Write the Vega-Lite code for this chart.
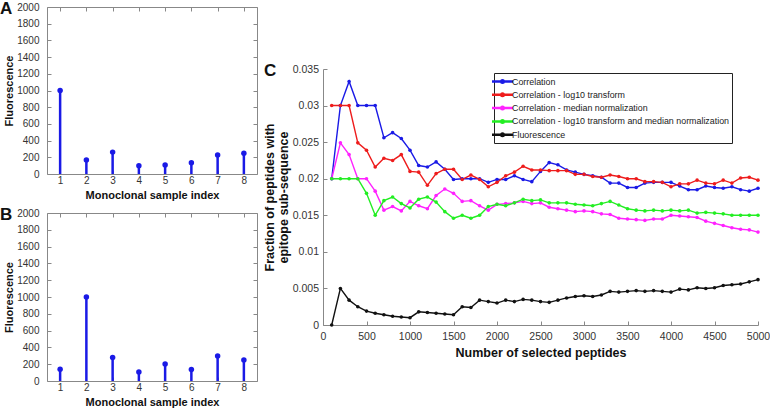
{
  "$schema": "https://vega.github.io/schema/vega-lite/v6.json",
  "padding": {"left": -1, "top": -1, "right": 0, "bottom": 0},
  "background": "white",
  "config": {
    "font": "Liberation Sans",
    "view": {"stroke": "#888", "strokeWidth": 1},
    "axis": {"labelFont": "Liberation Sans", "titleFont": "Liberation Sans", "labelFontSize": 10, "labelColor": "#333", "titleColor": "#111", "titleFontSize": 11, "titleFontWeight": "bold", "grid": false, "domain": false, "tickColor": "#888", "tickSize": -4, "labelPadding": 8, "labelFlush": false},
    "title": {"font": "Liberation Sans", "fontSize": 17, "fontWeight": "bold", "color": "#111", "anchor": "start", "frame": "group", "baseline": "alphabetic"}
  },
  "hconcat": [
    {
      "vconcat": [
        {
          "width": 210, "height": 167,
          "title": {"text": "A", "dx": -47, "offset": -16},
          "data": {"values": [{"i":1,"f":1000},{"i":2,"f":168},{"i":3,"f":262},{"i":4,"f":100},{"i":5,"f":108},{"i":6,"f":135},{"i":7,"f":228},{"i":8,"f":248}]},
          "layer": [
            {"mark": {"type": "rule", "color": "#1a1ae6", "strokeWidth": 2.5},
             "encoding": {
               "x": {"field": "i", "type": "quantitative", "scale": {"domain": [0.5, 8.5], "zero": false}, "axis": {"values": [1,2,3,4,5,6,7,8], "format": "d", "title": "Monoclonal sample index", "labelPadding": 5, "titlePadding": 4}},
               "y": {"field": "f", "type": "quantitative", "scale": {"domain": [0, 2000]}, "axis": {"values": [0,200,400,600,800,1000,1200,1400,1600,1800,2000], "format": "d", "title": "Fluorescence", "labelPadding": 12, "titlePadding": 2}},
               "y2": {"datum": 0}}},
            {"mark": {"type": "point", "filled": true, "color": "#1a1ae6", "size": 30, "opacity": 1},
             "encoding": {
               "x": {"field": "i", "type": "quantitative", "scale": {"domain": [0.5, 8.5], "zero": false}, "axis": {"orient": "top", "labels": false, "title": null, "labelPadding": 0, "values": [1,2,3,4,5,6,7,8]}},
               "y": {"field": "f", "type": "quantitative", "scale": {"domain": [0, 2000]}, "axis": {"orient": "right", "labels": false, "title": null, "labelPadding": 0, "values": [0,200,400,600,800,1000,1200,1400,1600,1800,2000]}}}}
          ],
          "resolve": {"axis": {"x": "independent", "y": "independent"}}
        },
        {
          "width": 210, "height": 168,
          "title": {"text": "B", "dx": -47, "offset": -16},
          "data": {"values": [{"i":1,"f":140},{"i":2,"f":1000},{"i":3,"f":279},{"i":4,"f":107},{"i":5,"f":202},{"i":6,"f":136},{"i":7,"f":298},{"i":8,"f":250}]},
          "layer": [
            {"mark": {"type": "rule", "color": "#1a1ae6", "strokeWidth": 2.5},
             "encoding": {
               "x": {"field": "i", "type": "quantitative", "scale": {"domain": [0.5, 8.5], "zero": false}, "axis": {"values": [1,2,3,4,5,6,7,8], "format": "d", "title": "Monoclonal sample index", "labelPadding": 5, "titlePadding": 4}},
               "y": {"field": "f", "type": "quantitative", "scale": {"domain": [0, 2000]}, "axis": {"values": [0,200,400,600,800,1000,1200,1400,1600,1800,2000], "format": "d", "title": "Fluorescence", "labelPadding": 12, "titlePadding": 2}},
               "y2": {"datum": 0}}},
            {"mark": {"type": "point", "filled": true, "color": "#1a1ae6", "size": 30, "opacity": 1},
             "encoding": {
               "x": {"field": "i", "type": "quantitative", "scale": {"domain": [0.5, 8.5], "zero": false}, "axis": {"orient": "top", "labels": false, "title": null, "labelPadding": 0, "values": [1,2,3,4,5,6,7,8]}},
               "y": {"field": "f", "type": "quantitative", "scale": {"domain": [0, 2000]}, "axis": {"orient": "right", "labels": false, "title": null, "labelPadding": 0, "values": [0,200,400,600,800,1000,1200,1400,1600,1800,2000]}}}}
          ],
          "resolve": {"axis": {"x": "independent", "y": "independent"}}
        }
      ],
      "spacing": 4
    },
    {
      "vconcat": [
        {
          "width": 435, "height": 43,
          "view": {"stroke": null},
          "data": {"values": [{"t": ""}]},
          "mark": {"type": "text"},
          "encoding": {"text": {"field": "t"}}
        },
        {
          "width": 435, "height": 256,
          "view": {"stroke": null},
          "title": {"text": "C", "dx": -59, "offset": -16},
          "data": {"values": [
{"n":100,"Correlation":0.0200,"Correlation - log10 transform":0.0300,"Correlation - median normalization":0.0200,"Correlation - log10 transform and median normalization":0.0200,"Fluorescence":0},
{"n":200,"Correlation":0.0300,"Correlation - log10 transform":0.0300,"Correlation - median normalization":0.0249,"Correlation - log10 transform and median normalization":0.0200,"Fluorescence":0.0050},
{"n":300,"Correlation":0.0333,"Correlation - log10 transform":0.0300,"Correlation - median normalization":0.0233,"Correlation - log10 transform and median normalization":0.0200,"Fluorescence":0.0034},
{"n":400,"Correlation":0.0300,"Correlation - log10 transform":0.0249,"Correlation - median normalization":0.0200,"Correlation - log10 transform and median normalization":0.0200,"Fluorescence":0.0025},
{"n":500,"Correlation":0.0300,"Correlation - log10 transform":0.0239,"Correlation - median normalization":0.0200,"Correlation - log10 transform and median normalization":0.0180,"Fluorescence":0.0019},
{"n":600,"Correlation":0.0300,"Correlation - log10 transform":0.0216,"Correlation - median normalization":0.0183,"Correlation - log10 transform and median normalization":0.0150,"Fluorescence":0.0016},
{"n":700,"Correlation":0.0256,"Correlation - log10 transform":0.0228,"Correlation - median normalization":0.0157,"Correlation - log10 transform and median normalization":0.0170,"Fluorescence":0.0014},
{"n":800,"Correlation":0.0263,"Correlation - log10 transform":0.0225,"Correlation - median normalization":0.0162,"Correlation - log10 transform and median normalization":0.0175,"Fluorescence":0.0012},
{"n":900,"Correlation":0.0255,"Correlation - log10 transform":0.0233,"Correlation - median normalization":0.0156,"Correlation - log10 transform and median normalization":0.0166,"Fluorescence":0.0011},
{"n":1000,"Correlation":0.0239,"Correlation - log10 transform":0.0210,"Correlation - median normalization":0.0169,"Correlation - log10 transform and median normalization":0.0160,"Fluorescence":0.0010},
{"n":1100,"Correlation":0.0218,"Correlation - log10 transform":0.0209,"Correlation - median normalization":0.0163,"Correlation - log10 transform and median normalization":0.0172,"Fluorescence":0.0018},
{"n":1200,"Correlation":0.0216,"Correlation - log10 transform":0.0191,"Correlation - median normalization":0.0159,"Correlation - log10 transform and median normalization":0.0175,"Fluorescence":0.0017},
{"n":1300,"Correlation":0.0223,"Correlation - log10 transform":0.0207,"Correlation - median normalization":0.0177,"Correlation - log10 transform and median normalization":0.0168,"Fluorescence":0.0016},
{"n":1400,"Correlation":0.0213,"Correlation - log10 transform":0.0213,"Correlation - median normalization":0.0186,"Correlation - log10 transform and median normalization":0.0155,"Fluorescence":0.0015},
{"n":1500,"Correlation":0.0199,"Correlation - log10 transform":0.0213,"Correlation - median normalization":0.0180,"Correlation - log10 transform and median normalization":0.0146,"Fluorescence":0.0014},
{"n":1600,"Correlation":0.0200,"Correlation - log10 transform":0.0199,"Correlation - median normalization":0.0169,"Correlation - log10 transform and median normalization":0.0150,"Fluorescence":0.0025},
{"n":1700,"Correlation":0.0200,"Correlation - log10 transform":0.0205,"Correlation - median normalization":0.0170,"Correlation - log10 transform and median normalization":0.0146,"Fluorescence":0.0024},
{"n":1800,"Correlation":0.0200,"Correlation - log10 transform":0.0199,"Correlation - median normalization":0.0163,"Correlation - log10 transform and median normalization":0.0150,"Fluorescence":0.0034},
{"n":1900,"Correlation":0.0195,"Correlation - log10 transform":0.0189,"Correlation - median normalization":0.0157,"Correlation - log10 transform and median normalization":0.0162,"Fluorescence":0.0032},
{"n":2000,"Correlation":0.0199,"Correlation - log10 transform":0.0195,"Correlation - median normalization":0.0165,"Correlation - log10 transform and median normalization":0.0165,"Fluorescence":0.0030},
{"n":2100,"Correlation":0.0199,"Correlation - log10 transform":0.0204,"Correlation - median normalization":0.0166,"Correlation - log10 transform and median normalization":0.0163,"Fluorescence":0.0034},
{"n":2200,"Correlation":0.0204,"Correlation - log10 transform":0.0209,"Correlation - median normalization":0.0167,"Correlation - log10 transform and median normalization":0.0167,"Fluorescence":0.0032},
{"n":2300,"Correlation":0.0199,"Correlation - log10 transform":0.0217,"Correlation - median normalization":0.0169,"Correlation - log10 transform and median normalization":0.0172,"Fluorescence":0.0035},
{"n":2400,"Correlation":0.0196,"Correlation - log10 transform":0.0212,"Correlation - median normalization":0.0166,"Correlation - log10 transform and median normalization":0.0170,"Fluorescence":0.0034},
{"n":2500,"Correlation":0.0210,"Correlation - log10 transform":0.0212,"Correlation - median normalization":0.0167,"Correlation - log10 transform and median normalization":0.0171,"Fluorescence":0.0032},
{"n":2600,"Correlation":0.0222,"Correlation - log10 transform":0.0211,"Correlation - median normalization":0.0161,"Correlation - log10 transform and median normalization":0.0167,"Fluorescence":0.0031},
{"n":2700,"Correlation":0.0219,"Correlation - log10 transform":0.0211,"Correlation - median normalization":0.0159,"Correlation - log10 transform and median normalization":0.0167,"Fluorescence":0.0034},
{"n":2800,"Correlation":0.0212,"Correlation - log10 transform":0.0211,"Correlation - median normalization":0.0157,"Correlation - log10 transform and median normalization":0.0167,"Fluorescence":0.0037},
{"n":2900,"Correlation":0.0209,"Correlation - log10 transform":0.0206,"Correlation - median normalization":0.0155,"Correlation - log10 transform and median normalization":0.0165,"Fluorescence":0.0039},
{"n":3000,"Correlation":0.0206,"Correlation - log10 transform":0.0206,"Correlation - median normalization":0.0156,"Correlation - log10 transform and median normalization":0.0164,"Fluorescence":0.0040},
{"n":3100,"Correlation":0.0204,"Correlation - log10 transform":0.0203,"Correlation - median normalization":0.0155,"Correlation - log10 transform and median normalization":0.0163,"Fluorescence":0.0039},
{"n":3200,"Correlation":0.0202,"Correlation - log10 transform":0.0202,"Correlation - median normalization":0.0152,"Correlation - log10 transform and median normalization":0.0166,"Fluorescence":0.0041},
{"n":3300,"Correlation":0.0194,"Correlation - log10 transform":0.0205,"Correlation - median normalization":0.0151,"Correlation - log10 transform and median normalization":0.0169,"Fluorescence":0.0046},
{"n":3400,"Correlation":0.0194,"Correlation - log10 transform":0.0203,"Correlation - median normalization":0.0146,"Correlation - log10 transform and median normalization":0.0164,"Fluorescence":0.0045},
{"n":3500,"Correlation":0.0188,"Correlation - log10 transform":0.0200,"Correlation - median normalization":0.0145,"Correlation - log10 transform and median normalization":0.0159,"Fluorescence":0.0046},
{"n":3600,"Correlation":0.0188,"Correlation - log10 transform":0.0200,"Correlation - median normalization":0.0144,"Correlation - log10 transform and median normalization":0.0157,"Fluorescence":0.0047},
{"n":3700,"Correlation":0.0194,"Correlation - log10 transform":0.0196,"Correlation - median normalization":0.0143,"Correlation - log10 transform and median normalization":0.0156,"Fluorescence":0.0046},
{"n":3800,"Correlation":0.0195,"Correlation - log10 transform":0.0196,"Correlation - median normalization":0.0145,"Correlation - log10 transform and median normalization":0.0157,"Fluorescence":0.0047},
{"n":3900,"Correlation":0.0195,"Correlation - log10 transform":0.0195,"Correlation - median normalization":0.0145,"Correlation - log10 transform and median normalization":0.0156,"Fluorescence":0.0046},
{"n":4000,"Correlation":0.0195,"Correlation - log10 transform":0.0189,"Correlation - median normalization":0.0150,"Correlation - log10 transform and median normalization":0.0157,"Fluorescence":0.0045},
{"n":4100,"Correlation":0.0190,"Correlation - log10 transform":0.0193,"Correlation - median normalization":0.0149,"Correlation - log10 transform and median normalization":0.0156,"Fluorescence":0.0049},
{"n":4200,"Correlation":0.0185,"Correlation - log10 transform":0.0193,"Correlation - median normalization":0.0148,"Correlation - log10 transform and median normalization":0.0157,"Fluorescence":0.0048},
{"n":4300,"Correlation":0.0185,"Correlation - log10 transform":0.0198,"Correlation - median normalization":0.0147,"Correlation - log10 transform and median normalization":0.0153,"Fluorescence":0.0051},
{"n":4400,"Correlation":0.0190,"Correlation - log10 transform":0.0194,"Correlation - median normalization":0.0142,"Correlation - log10 transform and median normalization":0.0154,"Fluorescence":0.0050},
{"n":4500,"Correlation":0.0188,"Correlation - log10 transform":0.0193,"Correlation - median normalization":0.0139,"Correlation - log10 transform and median normalization":0.0153,"Fluorescence":0.0051},
{"n":4600,"Correlation":0.0187,"Correlation - log10 transform":0.0198,"Correlation - median normalization":0.0136,"Correlation - log10 transform and median normalization":0.0152,"Fluorescence":0.0054},
{"n":4700,"Correlation":0.0189,"Correlation - log10 transform":0.0194,"Correlation - median normalization":0.0133,"Correlation - log10 transform and median normalization":0.0150,"Fluorescence":0.0055},
{"n":4800,"Correlation":0.0185,"Correlation - log10 transform":0.0201,"Correlation - median normalization":0.0131,"Correlation - log10 transform and median normalization":0.0150,"Fluorescence":0.0056},
{"n":4900,"Correlation":0.0183,"Correlation - log10 transform":0.0202,"Correlation - median normalization":0.0130,"Correlation - log10 transform and median normalization":0.0150,"Fluorescence":0.0059},
{"n":5000,"Correlation":0.0187,"Correlation - log10 transform":0.0198,"Correlation - median normalization":0.0127,"Correlation - log10 transform and median normalization":0.0150,"Fluorescence":0.0062}
          ]},
          "transform": [{"fold": ["Correlation", "Correlation - log10 transform", "Correlation - median normalization", "Correlation - log10 transform and median normalization", "Fluorescence"], "as": ["series", "value"]}],
          "mark": {"type": "line", "strokeWidth": 1.4, "point": {"filled": true, "size": 13}},
          "encoding": {
            "x": {"field": "n", "type": "quantitative", "scale": {"domain": [0, 5000]}, "axis": {"values": [0,500,1000,1500,2000,2500,3000,3500,4000,4500,5000], "format": "d", "domain": true, "domainColor": "#888", "labelFontSize": 10.5, "titleFontSize": 12.5, "title": "Number of selected peptides", "labelPadding": 10, "titlePadding": 5}},
            "y": {"field": "value", "type": "quantitative", "scale": {"domain": [0, 0.035]}, "axis": {"values": [0,0.005,0.01,0.015,0.02,0.025,0.03,0.035], "format": "~g", "domain": true, "domainColor": "#888", "labelFontSize": 10.5, "titleFontSize": 12.5, "title": ["Fraction of peptides with", "epitope sub-sequence"], "labelPadding": 8.5, "titlePadding": 1.5}},
            "color": {"field": "series", "type": "nominal",
              "scale": {"domain": ["Correlation", "Correlation - log10 transform", "Correlation - median normalization", "Correlation - log10 transform and median normalization", "Fluorescence"], "range": ["#1a1ae6", "#ee1c1c", "#ff22ff", "#22ee22", "#111111"]},
              "legend": {"orient": "none", "legendX": 447, "legendY": 66, "title": null, "strokeColor": "#222", "fillColor": "white", "padding": 2, "labelFont": "Liberation Sans", "labelFontSize": 8.9, "labelColor": "#222", "symbolType": "M-2.1,0H2.1M0.25,0A0.25,0.25 0 1,1 -0.25,0A0.25,0.25 0 1,1 0.25,0", "symbolSize": 100, "symbolStrokeWidth": 2.5, "rowPadding": 0.3, "labelOffset": 3, "labelLimit": 400}},
            "order": {"field": "n", "type": "quantitative"}
          }
        }
      ],
      "spacing": 12
    }
  ],
  "spacing": 5
}
